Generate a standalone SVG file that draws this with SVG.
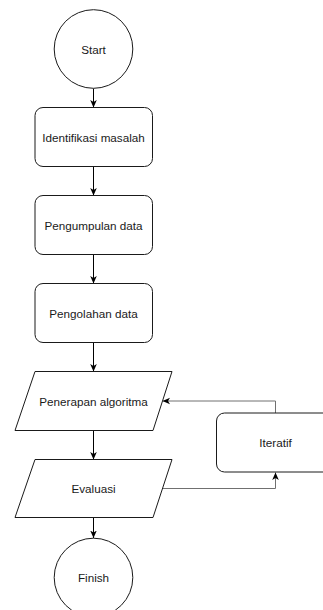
<svg xmlns="http://www.w3.org/2000/svg" width="323" height="610" viewBox="0 0 323 610">
<defs>
<marker id="arr" viewBox="0 0 8 8" markerWidth="8" markerHeight="8" refX="7.5" refY="4" orient="auto" markerUnits="userSpaceOnUse">
<path d="M0,0.7 L7.5,4 L0,7.3 L2,4 Z" fill="#000"/>
</marker>
<marker id="arrg" viewBox="0 0 8 8" markerWidth="8" markerHeight="8" refX="7.5" refY="4" orient="auto" markerUnits="userSpaceOnUse">
<path d="M0,0.7 L7.5,4 L0,7.3 L2,4 Z" fill="#000"/>
</marker>
<style>
.s{fill:#fff;stroke:#1a1a1a;stroke-width:1}
.t{font-family:"Liberation Sans",Arial,sans-serif;font-size:11.7px;fill:#1a1a1a;text-anchor:middle;dominant-baseline:central}
.c{fill:none;stroke:#000;stroke-width:1;marker-end:url(#arr)}
.g{fill:none;stroke:#707070;stroke-width:1;marker-end:url(#arrg)}
</style>
</defs>
<rect width="323" height="610" fill="#fff"/>
<g id="connectors">
<line class="c" x1="93.5" y1="88.5" x2="93.5" y2="107.5"/>
<line class="c" x1="93.5" y1="166.5" x2="93.5" y2="195.5"/>
<line class="c" x1="93.5" y1="254.5" x2="93.5" y2="283.5"/>
<line class="c" x1="93.5" y1="342.5" x2="93.5" y2="371.5"/>
<line class="c" x1="93.5" y1="430.5" x2="93.5" y2="459.5"/>
<line class="c" x1="93.5" y1="517.5" x2="93.5" y2="538"/>
<polyline class="g" points="275.5,413 275.5,401 162.5,401"/>
<polyline class="g" points="162,488.5 275.5,488.5 275.5,472.5"/>
</g>
<g id="start">
<circle class="s" cx="93.5" cy="49" r="39.3"/>
<text class="t" x="93.5" y="49">Start</text>
</g>
<g id="identifikasi">
<rect class="s" x="35" y="107.5" width="117.5" height="59" rx="8"/>
<text class="t" x="93.5" y="137">Identifikasi masalah</text>
</g>
<g id="pengumpulan">
<rect class="s" x="35" y="195.5" width="117.5" height="59" rx="8"/>
<text class="t" x="93.5" y="225">Pengumpulan data</text>
</g>
<g id="pengolahan">
<rect class="s" x="35" y="283.5" width="117.5" height="59" rx="8"/>
<text class="t" x="93.5" y="313">Pengolahan data</text>
</g>
<g id="penerapan">
<polygon class="s" points="35,371.5 172,371.5 153,430.5 15,430.5"/>
<text class="t" x="93.5" y="401">Penerapan algoritma</text>
</g>
<g id="evaluasi">
<polygon class="s" points="35,459.5 172,459.5 153,517.5 15,517.5"/>
<text class="t" x="93.5" y="488.5">Evaluasi</text>
</g>
<g id="finish">
<circle class="s" cx="93.5" cy="577.5" r="39.3"/>
<text class="t" x="93.5" y="577.5">Finish</text>
</g>
<g id="iteratif">
<rect class="s" x="216.5" y="413" width="117.5" height="59" rx="8"/>
<text class="t" x="275.5" y="442.5">Iteratif</text>
</g>
</svg>
